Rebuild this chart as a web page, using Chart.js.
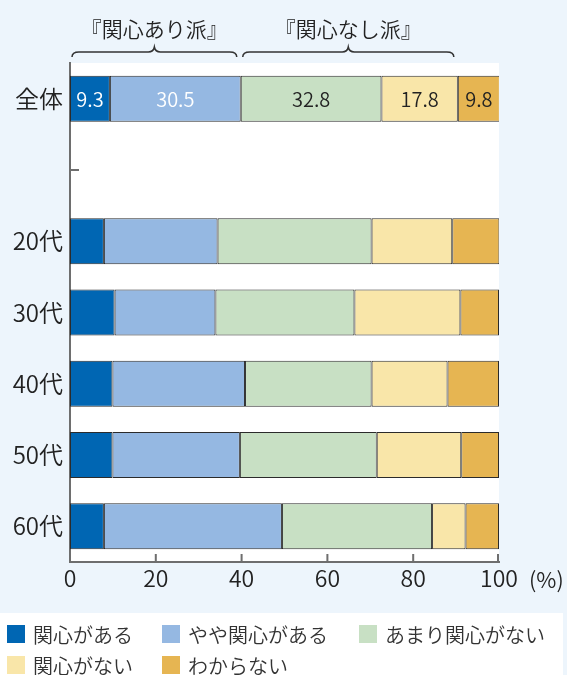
<!DOCTYPE html>
<html lang="ja">
<head>
<meta charset="utf-8">
<title>関心の有無</title>
<script src="https://cdn.jsdelivr.net/npm/chart.js@4.4.1/dist/chart.umd.min.js"></script>
<style>
  html, body { margin: 0; padding: 0; background: #edf5fc; }
  #wrap { position: relative; width: 567px; height: 675px; }
</style>
</head>
<body>
<div id="wrap"><canvas id="chart"></canvas></div>
<script>
// data (%)
const categories = ["全体", "", "20代", "30代", "40代", "50代", "60代"];
const seriesNames = ["関心がある", "やや関心がある", "あまり関心がない", "関心がない", "わからない"];
const kanshinAru = [9.3, null, 7.9, 10.4, 9.9, 9.9, 7.9];
const yayaAru = [30.5, null, 26.5, 23.5, 30.9, 29.7, 41.5];
const amariNai = [32.8, null, 35.9, 32.4, 29.5, 31.9, 35.0];
const kanshinNai = [17.8, null, 18.8, 24.7, 17.7, 19.7, 7.8];
const wakaranai = [9.8, null, 11.0, 9.0, 12.0, 8.8, 7.8];
const xTicks = [0, 20, 40, 60, 80, 100];
const groupLabels = ["『関心あり派』", "『関心なし派』"];
const groupSeries = [[0, 1], [2, 3]];

const colors = ["#0066b3", "#95b8e2", "#c8e0c4", "#f9e6a9", "#e6b552"];
const labelColors = ["#ffffff", "#ffffff", "#222222", "#222222", "#222222"];
const FONT = "'Noto Sans CJK JP', 'Noto Sans', sans-serif";
const W = 350;
const AXIS = "#6e6e6e";

const allSeries = [kanshinAru, yayaAru, amariNai, kanshinNai, wakaranai];

const decor = {
  id: "decor",
  beforeDraw(chart) {
    const { ctx, chartArea: a } = chart;
    ctx.save();
    ctx.fillStyle = "#ffffff";
    ctx.fillRect(a.left, a.top, a.right - a.left, a.bottom - a.top);
    ctx.restore();
  },
  beforeDatasetsDraw(chart) {
    // tick marks drawn inward
    const { ctx, chartArea: a, scales } = chart;
    ctx.save();
    ctx.strokeStyle = AXIS;
    ctx.lineWidth = 2;
    ctx.beginPath();
    scales.y.ticks.forEach((t, i) => {
      const py = scales.y.getPixelForTick(i);
      ctx.moveTo(a.left, py);
      ctx.lineTo(a.left + 9, py);
    });
    xTicks.forEach(v => {
      if (v === 0) return;
      const px = Math.min(scales.x.getPixelForValue(v), a.right - 1);
      ctx.moveTo(px, a.bottom);
      ctx.lineTo(px, a.bottom - 8);
    });
    ctx.stroke();
    ctx.restore();
  },
  afterDatasetsDraw(chart) {
    // values on the 全体 bar
    const { ctx } = chart;
    ctx.save();
    ctx.font = W + " 20px " + FONT;
    ctx.textAlign = "center";
    ctx.textBaseline = "middle";
    chart.data.datasets.forEach((ds, i) => {
      const bar = chart.getDatasetMeta(i).data[0];
      if (!bar) return;
      ctx.fillStyle = labelColors[i];
      ctx.fillText(ds.data[0].toFixed(1), (bar.x + bar.base) / 2, bar.y + 1);
    });
    ctx.restore();
  },
  afterDraw(chart) {
    const { ctx, scales } = chart;
    ctx.save();

    // unit
    ctx.font = W + " 22px " + FONT;
    ctx.fillStyle = "#222";
    ctx.textBaseline = "middle";
    ctx.textAlign = "left";
    ctx.fillText("(%)", scales.x.getPixelForValue(100) + 30, 580);

    // group braces over the 全体 bar
    groupSeries.forEach((g, gi) => {
      let start = 0;
      for (let i = 0; i < g[0]; i++) start += allSeries[i][0];
      let end = start;
      for (let i = g[0]; i <= g[1]; i++) end += allSeries[i][0];
      const x1 = scales.x.getPixelForValue(start) + 2;
      const x2 = scales.x.getPixelForValue(end) - 4;
      const xm = (x1 + x2) / 2;
      const y = 52;
      ctx.strokeStyle = "#333";
      ctx.lineWidth = 1.5;
      ctx.beginPath();
      ctx.moveTo(x1, y + 5);
      ctx.quadraticCurveTo(x1, y, x1 + 7, y);
      ctx.lineTo(xm - 6, y);
      ctx.quadraticCurveTo(xm - 1, y, xm, y - 5);
      ctx.quadraticCurveTo(xm + 1, y, xm + 6, y);
      ctx.lineTo(x2 - 7, y);
      ctx.quadraticCurveTo(x2, y, x2, y + 5);
      ctx.stroke();
      ctx.font = W + " 21px " + FONT;
      ctx.textAlign = "center";
      ctx.fillStyle = "#222";
      ctx.fillText(groupLabels[gi], xm, 29);
    });

    // legend box
    ctx.fillStyle = "#ffffff";
    ctx.fillRect(0, 613, 563, 62);
    const cols = [7, 162, 359];
    const rows = [634, 665];
    ctx.font = W + " 20px " + FONT;
    ctx.textAlign = "left";
    chart.data.datasets.forEach((ds, i) => {
      const x = cols[i % 3];
      const y = rows[Math.floor(i / 3)];
      ctx.fillStyle = ds.backgroundColor;
      ctx.fillRect(x, y - 9, 18, 18);
      ctx.fillStyle = "#333";
      ctx.fillText(ds.label, x + 26, y + 1);
    });
    ctx.restore();
  }
};

new Chart(document.getElementById("chart"), {
  type: "bar",
  data: {
    labels: categories,
    datasets: allSeries.map((d, i) => ({
      label: seriesNames[i],
      data: d,
      backgroundColor: colors[i],
      borderColor: "#2b2b2b",
      borderWidth: 1,
      borderSkipped: false,
      barPercentage: 0.645,
      categoryPercentage: 1
    }))
  },
  options: {
    indexAxis: "y",
    responsive: true,
    maintainAspectRatio: false,
    animation: false,
    layout: { padding: { left: 0, top: 63, right: 68, bottom: 73 } },
    plugins: { legend: { display: false }, tooltip: { enabled: false } },
    scales: {
      x: {
        stacked: true,
        min: 0,
        max: 100,
        afterBuildTicks: s => { s.ticks = xTicks.map(v => ({ value: v })); },
        afterFit: s => { s.height = 40; },
        grid: { display: false, drawTicks: false },
        border: { color: AXIS, width: 2 },
        ticks: { color: "#222", padding: 2, font: { family: FONT, size: 23, weight: W } }
      },
      y: {
        stacked: true,
        afterFit: s => { s.width = 70; },
        grid: { display: false, drawTicks: false },
        border: { color: AXIS, width: 2 },
        ticks: { color: "#222", padding: 7, font: { family: FONT, size: 24, weight: W } }
      }
    }
  },
  plugins: [decor]
});
</script>
</body>
</html>
